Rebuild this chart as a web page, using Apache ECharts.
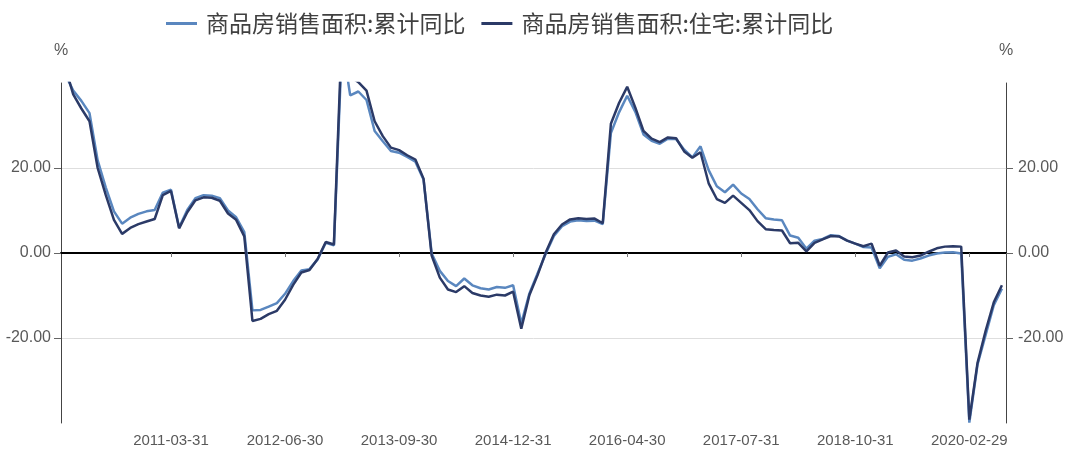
<!DOCTYPE html>
<html>
<head>
<meta charset="utf-8">
<script src="https://cdn.jsdelivr.net/npm/echarts@6/dist/echarts.min.js"></script>
<style>
html,body{margin:0;padding:0;background:#fff;}
#chart{width:1071px;height:456px;}
</style>
</head>
<body>
<div id="chart"></div>
<script>
const categories = [
'2009-12-31',
'2010-02-28','2010-03-31','2010-04-30','2010-05-31','2010-06-30','2010-07-31','2010-08-31','2010-09-30','2010-10-31','2010-11-30','2010-12-31',
'2011-02-28','2011-03-31','2011-04-30','2011-05-31','2011-06-30','2011-07-31','2011-08-31','2011-09-30','2011-10-31','2011-11-30','2011-12-31',
'2012-02-29','2012-03-31','2012-04-30','2012-05-31','2012-06-30','2012-07-31','2012-08-31','2012-09-30','2012-10-31','2012-11-30','2012-12-31',
'2013-02-28','2013-03-31','2013-04-30','2013-05-31','2013-06-30','2013-07-31','2013-08-31','2013-09-30','2013-10-31','2013-11-30','2013-12-31',
'2014-02-28','2014-03-31','2014-04-30','2014-05-31','2014-06-30','2014-07-31','2014-08-31','2014-09-30','2014-10-31','2014-11-30','2014-12-31',
'2015-02-28','2015-03-31','2015-04-30','2015-05-31','2015-06-30','2015-07-31','2015-08-31','2015-09-30','2015-10-31','2015-11-30','2015-12-31',
'2016-02-29','2016-03-31','2016-04-30','2016-05-31','2016-06-30','2016-07-31','2016-08-31','2016-09-30','2016-10-31','2016-11-30','2016-12-31',
'2017-02-28','2017-03-31','2017-04-30','2017-05-31','2017-06-30','2017-07-31','2017-08-31','2017-09-30','2017-10-31','2017-11-30','2017-12-31',
'2018-02-28','2018-03-31','2018-04-30','2018-05-31','2018-06-30','2018-07-31','2018-08-31','2018-09-30','2018-10-31','2018-11-30','2018-12-31',
'2019-02-28','2019-03-31','2019-04-30','2019-05-31','2019-06-30','2019-07-31','2019-08-31','2019-09-30','2019-10-31','2019-11-30','2019-12-31',
'2020-02-29','2020-03-31','2020-04-30','2020-05-31','2020-06-30'
];

// 商品房销售面积:累计同比 (%)
const salesAreaYoY = [
42.1,
38.2, 35.8, 32.9, 21.8, 15.4, 9.8, 6.9, 8.3, 9.2, 9.8, 10.1,
14.2, 14.9, 6.0, 10.1, 12.9, 13.6, 13.5, 12.9, 10.0, 8.4, 4.9,
-13.5, -13.4, -12.6, -11.8, -9.6, -6.6, -4.1, -3.8, -1.5, 2.4, 1.8,
49.5, 37.1, 38.0, 36.0, 28.7, 26.3, 24.0, 23.6, 22.6, 21.5, 17.3,
-0.1, -4.2, -6.6, -7.8, -6.0, -7.6, -8.3, -8.6, -8.0, -8.2, -7.6,
-16.6, -9.5, -4.8, -0.2, 4.0, 6.3, 7.4, 7.7, 7.5, 7.6, 6.8,
28.2, 33.1, 37.0, 33.2, 27.9, 26.4, 25.7, 26.9, 26.8, 24.3, 22.5,
25.1, 19.5, 15.7, 14.3, 16.1, 14.0, 12.7, 10.3, 8.2, 7.9, 7.7,
4.1, 3.6, 1.0, 2.9, 3.3, 4.2, 4.0, 2.9, 2.2, 1.4, 1.3,
-3.6, -0.9, -0.3, -1.6, -1.8, -1.3, -0.6, -0.1, 0.1, 0.2, -0.1,
-39.9, -26.3, -19.3, -12.3, -8.4
];

// 商品房销售面积:住宅:累计同比 (%)
const residentialYoY = [
43.9,
37.3, 34.0, 31.0, 20.0, 13.6, 7.8, 4.5, 5.9, 6.8, 7.4, 8.0,
13.6, 14.6, 5.8, 9.6, 12.4, 13.1, 13.0, 12.3, 9.3, 7.8, 3.9,
-16.0, -15.5, -14.4, -13.6, -11.0, -7.5, -4.6, -4.0, -1.4, 2.6, 2.0,
53.0, 41.5, 40.2, 38.2, 31.0, 27.5, 24.8, 24.2, 23.0, 22.0, 17.5,
-0.6, -5.8, -8.6, -9.2, -7.8, -9.4, -10.0, -10.3, -9.8, -10.0, -9.1,
-17.8, -9.9, -5.2, 0.1, 4.4, 6.7, 7.9, 8.2, 8.0, 8.1, 7.0,
30.4, 35.3, 39.1, 34.2, 28.7, 26.9, 26.1, 27.2, 27.0, 23.9, 22.4,
23.7, 16.4, 12.7, 11.8, 13.5, 11.8, 10.1, 7.5, 5.6, 5.4, 5.3,
2.3, 2.4, 0.4, 2.4, 3.2, 4.0, 3.9, 2.9, 2.2, 1.6, 2.2,
-3.0, 0.1, 0.6, -0.8, -1.0, -0.6, 0.3, 1.1, 1.5, 1.6, 1.5,
-39.2, -25.9, -18.3, -11.6, -7.6
];

const seriesNames = ['商品房销售面积:累计同比', '商品房销售面积:住宅:累计同比'];
const yMin = -40, yMax = 40, yStep = 20;
const yLabelValues = [-20, 0, 20];
const firstLabelIndex = 13, labelEvery = 14;

const showCat = (idx) => idx >= firstLabelIndex && (idx - firstLabelIndex) % labelEvery === 0;
const yFmt = (v) => (Math.abs(v) >= 40 ? '' : Number(v).toFixed(2));

const chart = echarts.init(document.getElementById('chart'));
const axisFont = { fontFamily: 'Liberation Sans', color: '#595959' };

function yAxisDef(pos, margin, withSplit) {
  return {
    type: 'value', min: yMin, max: yMax, interval: yStep, position: pos,
    name: '%', nameLocation: 'end', nameGap: 24,
    nameTextStyle: Object.assign({ fontSize: 16 }, axisFont),
    axisLine: { show: true, lineStyle: { color: '#444', width: 1 } },
    axisTick: { show: true, length: 7, customValues: yLabelValues, lineStyle: { color: '#666' } },
    axisLabel: Object.assign({ formatter: yFmt, customValues: yLabelValues, fontSize: 16, margin: margin }, axisFont),
    splitLine: { show: withSplit, lineStyle: { color: '#dedede', width: 1 } }
  };
}

chart.setOption({
  animation: false,
  backgroundColor: '#fff',
  color: ['#5a87bf', '#2b3a67'],
  legend: {
    left: 161, top: 7,
    icon: 'rect', itemWidth: 31, itemHeight: 3, itemGap: 16,
    textStyle: { fontFamily: 'Noto Sans CJK SC', fontSize: 23, color: '#404040', padding: [0, 0, 0, 4] },
    data: seriesNames
  },
  grid: { left: 61, right: 65, top: 83, bottom: 33 },
  xAxis: [
    {
      type: 'category', data: categories, boundaryGap: true, position: 'bottom',
      axisLine: { show: false, onZero: false },
      axisTick: { show: false },
      axisLabel: Object.assign({ interval: (i) => showCat(i), fontSize: 15, margin: 10 }, axisFont),
      splitLine: { show: false }
    },
    {
      type: 'category', data: categories, boundaryGap: true, position: 'bottom',
      axisLine: { show: true, onZero: true, lineStyle: { color: '#000', width: 2 } },
      axisTick: { show: true, alignWithLabel: true, interval: (i) => showCat(i), length: 4, lineStyle: { color: '#777' } },
      axisLabel: { show: false },
      splitLine: { show: false }
    }
  ],
  yAxis: [ yAxisDef('left', 10, true), yAxisDef('right', 12, false) ],
  series: [
    {
      name: seriesNames[0], type: 'line', data: salesAreaYoY,
      xAxisIndex: 0, yAxisIndex: 0, showSymbol: false, symbol: 'none',
      lineStyle: { width: 2.5 }, clip: true
    },
    {
      name: seriesNames[1], type: 'line', data: residentialYoY,
      xAxisIndex: 0, yAxisIndex: 0, showSymbol: false, symbol: 'none',
      lineStyle: { width: 2.5 }, clip: true
    }
  ]
});
</script>
</body>
</html>
